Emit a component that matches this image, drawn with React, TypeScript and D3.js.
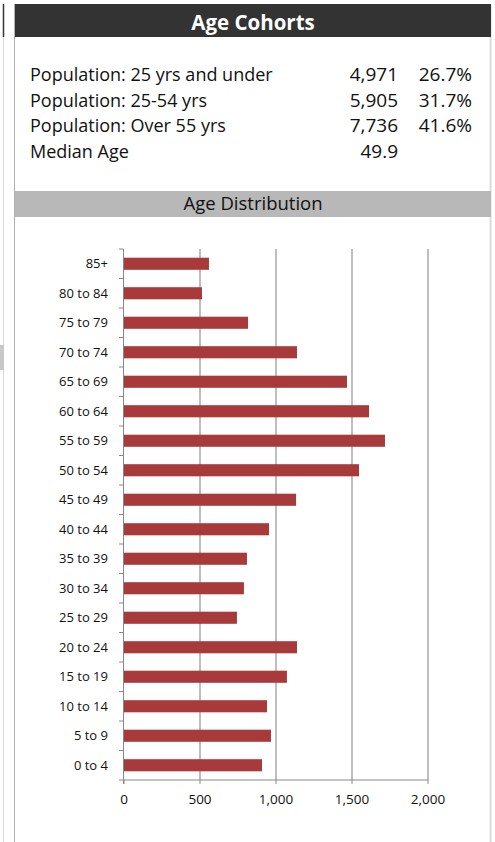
import React from "react";
import * as d3 from "d3";

const categories = ["0 to 4","5 to 9","10 to 14","15 to 19","20 to 24","25 to 29","30 to 34","35 to 39","40 to 44","45 to 49","50 to 54","55 to 59","60 to 64","65 to 69","70 to 74","75 to 79","80 to 84","85+"];
const values = [908, 967, 941, 1072, 1138, 743, 789, 809, 954, 1132, 1546, 1717, 1612, 1467, 1138, 816, 513, 559];
const xTicks = [0, 500, 1000, 1500, 2000];

const cohortLabels = ["Population: 25 yrs and under", "Population: 25-54 yrs", "Population: Over 55 yrs", "Median Age"];
const cohortValues = ["4,971", "5,905", "7,736", "49.9"];
const cohortPercents = ["26.7%", "31.7%", "41.6%", ""];

const FONT = "'Open Sans', 'Noto Sans', sans-serif";

export default function App() {
  const W = 495, H = 842;
  const x = d3.scaleLinear().domain([0, 2000]).range([124, 428]);
  const y = d3.scaleBand<string>().domain([...categories].reverse()).range([249, 780]).padding(0);
  const bw = y.bandwidth();
  const barH = bw * 0.41;
  const fmt = d3.format(",");
  const rowY = [81, 107, 132, 158];

  return (
    <svg width={W} height={H} style={{ position: "absolute", left: 0, top: 0 }} fontFamily={FONT}>
      <rect x={0} y={0} width={W} height={H} fill="#ffffff" />
      {/* left decorations */}
      <line x1={3.5} y1={4} x2={3.5} y2={37} stroke="#333" strokeWidth={1.5} />
      <line x1={3.5} y1={37} x2={3.5} y2={H} stroke="#d8d8d8" strokeWidth={1} />
      <rect x={0} y={345} width={4} height={25} fill="#c8c8c8" />
      <line x1={14.5} y1={4} x2={14.5} y2={H} stroke="#b0b0b0" strokeWidth={1} />
      <line x1={490.5} y1={4} x2={490.5} y2={H} stroke="#dcdcdc" strokeWidth={2} />

      {/* header */}
      <rect x={15} y={4} width={476} height={33} fill="#333333" />
      <text x={253} y={30} textAnchor="middle" fill="#fff" fontWeight="bold" fontSize={20.5}>Age Cohorts</text>

      {cohortLabels.map((l, i) => (
        <g key={l} fill="#111">
          <text x={30} y={rowY[i]} fontSize={18}>{l}</text>
          <text x={398} y={rowY[i]} textAnchor="end" fontSize={19}>{cohortValues[i]}</text>
          <text x={472} y={rowY[i]} textAnchor="end" fontSize={19}>{cohortPercents[i]}</text>
        </g>
      ))}

      {/* Age distribution band */}
      <rect x={15} y={191} width={476} height={26} fill="#b8b8b8" />
      <text x={253} y={210} textAnchor="middle" fill="#111" fontSize={18.5}>Age Distribution</text>

      {/* gridlines */}
      {xTicks.slice(1).map((t) => (
        <line key={t} x1={x(t)} x2={x(t)} y1={249} y2={780} stroke="#a8a8a8" strokeWidth={1.5} />
      ))}

      {/* bars */}
      {categories.map((c, i) => (
        <rect key={c} x={x(0)} y={(y(c) as number) + (bw - barH) / 2} width={x(values[i]) - x(0)} height={barH} fill="#a83a3b" />
      ))}

      {/* y axis */}
      <line x1={123.5} x2={123.5} y1={249} y2={784} stroke="#888" strokeWidth={1} />
      {d3.range(categories.length + 1).map((i) => (
        <line key={i} x1={119} x2={123.5} y1={249 + i * bw} y2={249 + i * bw} stroke="#888" strokeWidth={1} />
      ))}
      {categories.map((c) => (
        <text key={c} x={108} y={(y(c) as number) + bw / 2 + 4.5} textAnchor="end" fontSize={13} fill="#111">{c}</text>
      ))}

      {/* x axis */}
      <line x1={123.5} x2={428} y1={780} y2={780} stroke="#888" strokeWidth={1} />
      {xTicks.map((t) => (
        <g key={t}>
          <line x1={x(t)} x2={x(t)} y1={780} y2={784} stroke="#888" strokeWidth={1} />
          <text x={x(t)} y={804} textAnchor="middle" fontSize={13.5} fill="#111">{fmt(t)}</text>
        </g>
      ))}
    </svg>
  );
}
